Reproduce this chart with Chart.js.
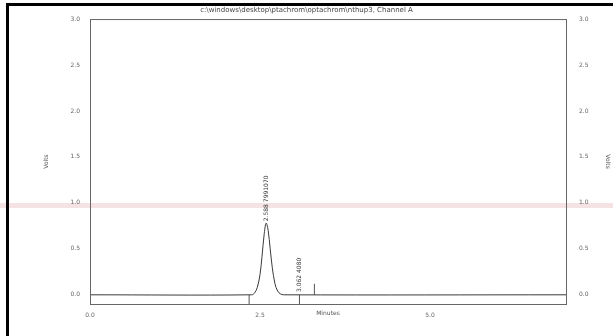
<!DOCTYPE html>
<html>
<head>
<meta charset="utf-8">
<script src="https://cdn.jsdelivr.net/npm/chart.js@4.4.1/dist/chart.umd.min.js"></script>
<style>
  html, body { margin: 0; padding: 0; background: #fff; }
  #wrap { position: relative; width: 613px; height: 336px; overflow: hidden; }
  #band { position: absolute; left: 0; top: 203px; width: 613px; height: 5px; background: rgba(225, 175, 175, 0.35); }
  #frameTop { position: absolute; left: 6px; top: 3px; width: 607px; height: 3px; background: #000; }
  #frameLeft { position: absolute; left: 6px; top: 3px; width: 3px; height: 333px; background: #000; }
  canvas { position: absolute; left: 0; top: 0; }
</style>
</head>
<body>
<div id="wrap">
  <div id="band"></div>
  <canvas id="chart" width="613" height="336"></canvas>
  <div id="frameTop"></div>
  <div id="frameLeft"></div>
</div>
<script>
// detector trace (minutes, volts)
const times = [0, 2.38, 2.42, 2.46, 2.50, 2.53, 2.56, 2.59, 2.62, 2.65, 2.68, 2.72, 2.76, 2.80, 2.85, 7.0];
const volts = [0, 0.0, 0.02, 0.08, 0.22, 0.42, 0.65, 0.78, 0.70, 0.50, 0.30, 0.12, 0.04, 0.01, 0, 0];

// integration event marks
const eventTimes = [2.34, 3.08, 3.30];
const eventFrom = [-0.1, -0.1, 0];
const eventTo = [0, 0, 0.12];

// peak annotations (retention time + area)
const peakLabels = ['2.588 7991070', '3.062 4080'];
const peakLabelTimes = [2.59, 3.08];
const peakLabelVolts = [0.80, 0.03];

const xTicks = [0, 2.5, 5.0];
const yTicks = [0, 0.5, 1.0, 1.5, 2.0, 2.5, 3.0];

const datasets = [{
  data: times.map((t, i) => ({ x: t, y: volts[i] })),
  borderColor: '#3a3a3a',
  borderWidth: 1,
  pointRadius: 0,
  tension: 0.35
}];
eventTimes.forEach((t, i) => {
  datasets.push({
    data: [{ x: t, y: eventFrom[i] }, { x: t, y: eventTo[i] }],
    borderColor: '#555',
    borderWidth: 1,
    pointRadius: 0
  });
});

const boxPlugin = {
  id: 'box',
  afterDatasetsDraw(chart) {
    const { ctx, chartArea: a, scales } = chart;
    ctx.save();
    ctx.strokeStyle = '#666';
    ctx.lineWidth = 1;
    ctx.strokeRect(a.left + 0.5, a.top + 0.5, a.right - a.left, a.bottom - a.top);
    // peak labels, rotated
    ctx.fillStyle = '#333';
    ctx.font = '6px "DejaVu Sans"';
    ctx.textBaseline = 'middle';
    ctx.textAlign = 'left';
    peakLabels.forEach((txt, i) => {
      const px = scales.x.getPixelForValue(peakLabelTimes[i]);
      const py = scales.y.getPixelForValue(peakLabelVolts[i]);
      ctx.save();
      ctx.translate(px, py);
      ctx.rotate(-Math.PI / 2);
      ctx.fillText(txt, 0, 0);
      ctx.restore();
    });
    ctx.restore();
  }
};

const tickFont = { family: 'DejaVu Sans', size: 6 };

new Chart(document.getElementById('chart'), {
  type: 'line',
  data: { datasets },
  plugins: [boxPlugin],
  options: {
    responsive: false,
    animation: false,
    layout: { padding: 0 },
    plugins: {
      legend: { display: false },
      tooltip: { enabled: false },
      title: {
        display: true,
        text: 'c:\\windows\\desktop\\ptachrom\\optachrom\\nthup3, Channel A',
        color: '#444',
        font: { family: 'DejaVu Sans', size: 7, weight: 'normal', lineHeight: 1.15 },
        padding: { top: 6, bottom: 5 }
      }
    },
    scales: {
      x: {
        type: 'linear',
        min: 0,
        max: 7,
        afterFit: s => { s.height = 32; },
        afterBuildTicks: s => { s.ticks = xTicks.map(v => ({ value: v })); },
        grid: { display: false },
        border: { display: false },
        ticks: { color: '#666', font: tickFont, padding: 0, maxRotation: 0, callback: v => v.toFixed(1) },
        title: { display: true, text: 'Minutes', color: '#555', font: tickFont, padding: { bottom: 19 } }
      },
      y: {
        position: 'left',
        min: -0.1,
        max: 3.0,
        afterFit: s => { s.width = 90; },
        afterBuildTicks: s => { s.ticks = yTicks.map(v => ({ value: v })); },
        grid: { display: false },
        border: { display: false },
        ticks: { color: '#666', font: tickFont, padding: 2, callback: v => v.toFixed(1) },
        title: { display: true, text: 'Volts', color: '#555', font: tickFont, padding: { top: 43 } }
      },
      y2: {
        position: 'right',
        min: -0.1,
        max: 3.0,
        afterFit: s => { s.width = 47; },
        afterBuildTicks: s => { s.ticks = yTicks.map(v => ({ value: v })); },
        grid: { display: false },
        border: { display: false },
        ticks: { color: '#666', font: tickFont, padding: 5, callback: v => v.toFixed(1) },
        title: { display: true, text: 'Volts', color: '#555', font: tickFont, padding: { top: 2 } }
      }
    }
  }
});
</script>
</body>
</html>
